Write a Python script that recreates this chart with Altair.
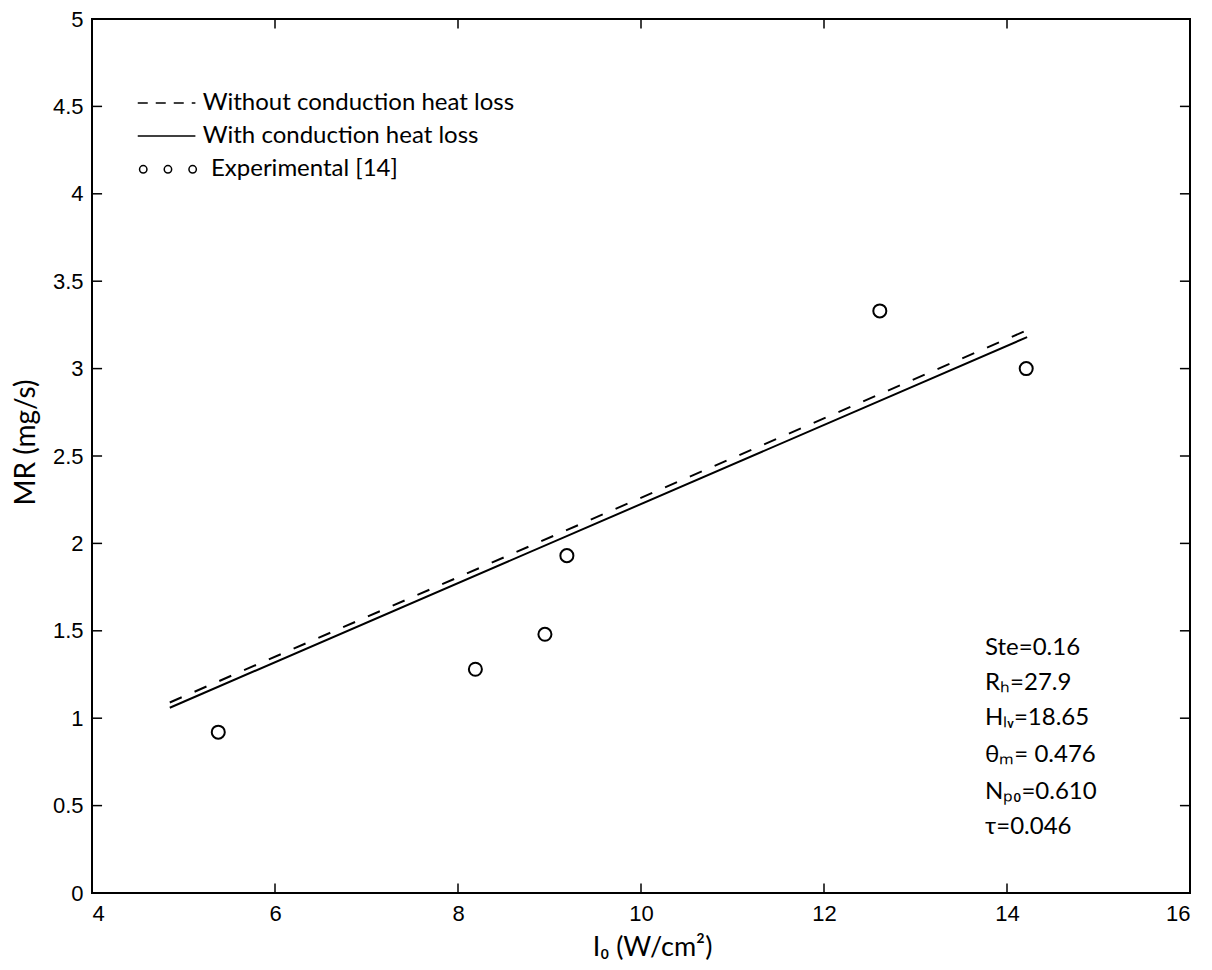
import altair as alt
import pandas as pd

# Experimental points
exp_x = [5.38, 8.19, 8.95, 9.19, 12.61, 14.21]
exp_y = [0.92, 1.28, 1.48, 1.93, 3.33, 3.00]

# Model lines (straight)
line_x = [4.85, 14.22]
without_y = [1.09, 3.22]
with_y = [1.06, 3.18]

x_ticks = [4, 6, 8, 10, 12, 14, 16]
y_ticks = [0, 0.5, 1, 1.5, 2, 2.5, 3, 3.5, 4, 4.5, 5]

legend_labels = ["Without conduction heat loss", "With conduction heat loss", "Experimental [14]"]
param_lines = ["Ste=0.16", "Rₕ=27.9", "Hₗᵥ=18.65", "θₘ= 0.476", "Nₚ₀=0.610", "τ=0.046"]

FONT = "Lato"
TFONT = "Liberation Sans"

xs = alt.Scale(domain=[4, 16], nice=False)
ys = alt.Scale(domain=[0, 5], nice=False)

lines_df = pd.DataFrame(
    [{"x": x, "y": y, "s": "without"} for x, y in zip(line_x, without_y)]
    + [{"x": x, "y": y, "s": "with"} for x, y in zip(line_x, with_y)]
)
exp_df = pd.DataFrame({"x": exp_x, "y": exp_y})

xax = alt.Axis(values=x_ticks, format="~g", tickSize=0, labelFont=TFONT, labelFontSize=22, labelPadding=10,
               labelColor="black", domain=False, grid=False, title="I₀ (W/cm²)",
               titleFont=FONT, titleFontSize=27, titleFontWeight="normal", titleColor="black",
               titleX=560, titleY=54, titleBaseline="middle", titleAnchor="middle")
yax = alt.Axis(values=y_ticks, format="~g", tickSize=0, labelFont=TFONT, labelFontSize=22, labelPadding=9,
               labelColor="black", domain=False, grid=False, title="MR (mg/s)",
               titleFont=FONT, titleFontSize=28, titleFontWeight="normal", titleColor="black",
               titleX=-66, titleY=423, titleBaseline="middle", titleAlign="center", titleAngle=-90)

dashed = alt.Chart(lines_df[lines_df.s == "without"]).mark_line(
    color="black", strokeWidth=2, strokeDash=[13, 14]
).encode(x=alt.X("x:Q", scale=xs, axis=xax), y=alt.Y("y:Q", scale=ys, axis=yax))

solid = alt.Chart(lines_df[lines_df.s == "with"]).mark_line(
    color="black", strokeWidth=2
).encode(x=alt.X("x:Q", scale=xs), y=alt.Y("y:Q", scale=ys))

pts = alt.Chart(exp_df).mark_point(
    shape="circle", filled=False, color="black", strokeWidth=2, size=170, opacity=1
).encode(x=alt.X("x:Q", scale=xs), y=alt.Y("y:Q", scale=ys))

# inward ticks on all four sides
tx = pd.DataFrame({"v": x_ticks[1:-1]})
ty = pd.DataFrame({"v": y_ticks[1:-1]})
tick_len_y = 0.055
tick_len_x = 0.11
xt_bottom = alt.Chart(tx).mark_rule(color="black", strokeWidth=1.5).encode(
    x=alt.X("v:Q", scale=xs), y=alt.datum(0, scale=ys), y2=alt.datum(tick_len_y))
xt_top = alt.Chart(tx).mark_rule(color="black", strokeWidth=1.5).encode(
    x=alt.X("v:Q", scale=xs), y=alt.datum(5, scale=ys), y2=alt.datum(5 - tick_len_y))
yt_left = alt.Chart(ty).mark_rule(color="black", strokeWidth=1.5).encode(
    y=alt.Y("v:Q", scale=ys), x=alt.datum(4, scale=xs), x2=alt.datum(4 + tick_len_x))
yt_right = alt.Chart(ty).mark_rule(color="black", strokeWidth=1.5).encode(
    y=alt.Y("v:Q", scale=ys), x=alt.datum(16, scale=xs), x2=alt.datum(16 - tick_len_x))

# legend (in data coordinates)
leg_y = [4.52, 4.33, 4.14]
leg_text = pd.DataFrame({"x": [5.21, 5.21, 5.30], "y": leg_y, "t": legend_labels})
leg_txt = alt.Chart(leg_text).mark_text(
    font=FONT, fontSize=24, align="left", baseline="middle", color="black"
).encode(x=alt.X("x:Q", scale=xs), y=alt.Y("y:Q", scale=ys), text="t:N")
leg_dash = alt.Chart(pd.DataFrame({"x": [4.50, 5.13], "y": [leg_y[0]] * 2})).mark_line(
    color="black", strokeWidth=1.5, strokeDash=[10, 8]
).encode(x=alt.X("x:Q", scale=xs), y=alt.Y("y:Q", scale=ys))
leg_solid = alt.Chart(pd.DataFrame({"x": [4.50, 5.13], "y": [leg_y[1]] * 2})).mark_line(
    color="black", strokeWidth=1.5
).encode(x=alt.X("x:Q", scale=xs), y=alt.Y("y:Q", scale=ys))
leg_pts = alt.Chart(pd.DataFrame({"x": [4.56, 4.83, 5.10], "y": [leg_y[2]] * 3})).mark_point(
    shape="circle", filled=False, color="black", strokeWidth=1.5, size=55, opacity=1
).encode(x=alt.X("x:Q", scale=xs), y=alt.Y("y:Q", scale=ys))

# parameter annotation
param_df = pd.DataFrame({"x": [13.76] * 6, "y": [1.40, 1.20, 1.00, 0.79, 0.58, 0.38], "t": param_lines})
params = alt.Chart(param_df).mark_text(
    font=FONT, fontSize=24, align="left", baseline="middle", color="black"
).encode(x=alt.X("x:Q", scale=xs), y=alt.Y("y:Q", scale=ys), text="t:N")

chart = alt.layer(
    dashed, solid, pts, xt_bottom, xt_top, yt_left, yt_right,
    leg_dash, leg_solid, leg_pts, leg_txt, params
).properties(
    width=1098, height=874,
    autosize=alt.AutoSizeParams(type="none"),
    padding={"left": 84, "top": 11, "right": 14, "bottom": 69},
).configure(
    background="white"
).configure_view(
    stroke="black", strokeWidth=2
)

chart.save("out.html", embed_options={"renderer": "svg", "actions": False})
